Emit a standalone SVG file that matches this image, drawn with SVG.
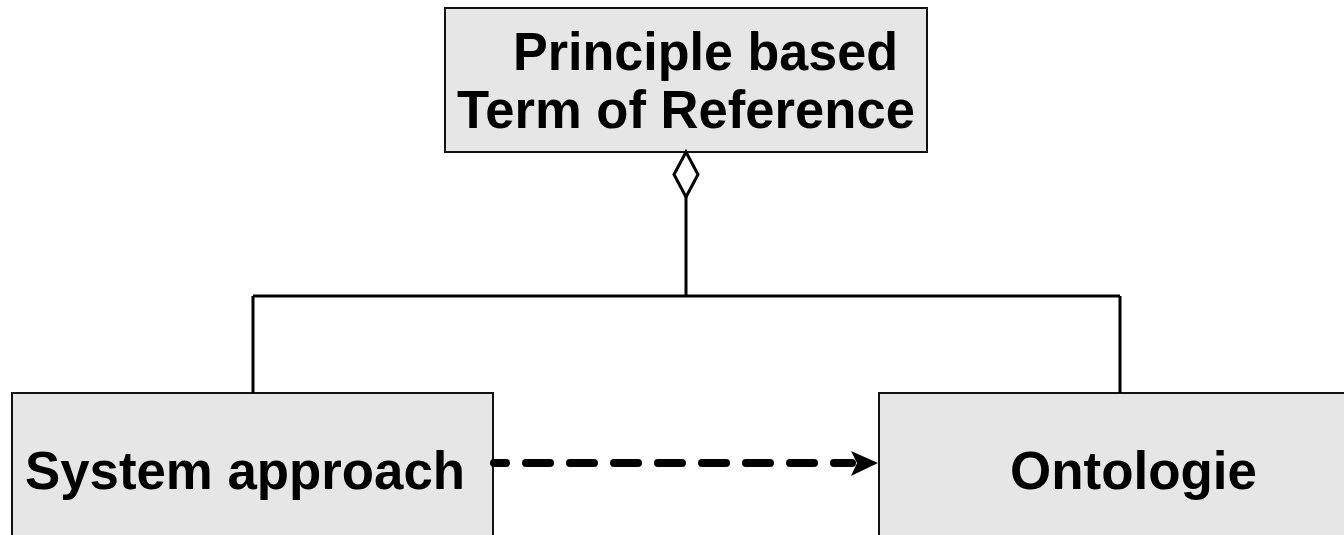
<svg xmlns="http://www.w3.org/2000/svg" width="1344" height="535" viewBox="0 0 1344 535">
  <style>
    .box { fill: #e6e6e6; stroke: #111; stroke-width: 2; }
    .lbl { font-family: "Liberation Sans", Arial, sans-serif; font-weight: bold; font-size: 53px; fill: #000; }
    .line { fill: none; stroke: #000; stroke-width: 3; }
  </style>
  <rect width="1344" height="535" fill="#fff"/>
  <g id="node-principle">
    <rect class="box" x="445" y="8" width="482" height="144"/>
    <text class="lbl" x="513" y="70" textLength="385" lengthAdjust="spacingAndGlyphs">Principle based</text>
    <text class="lbl" x="457" y="128" textLength="458" lengthAdjust="spacingAndGlyphs">Term of Reference</text>
  </g>
  <g id="node-system">
    <rect class="box" x="12" y="393" width="481" height="160"/>
    <text class="lbl" x="25" y="489" textLength="440" lengthAdjust="spacingAndGlyphs">System approach</text>
  </g>
  <g id="node-ontologie">
    <rect class="box" x="879" y="393" width="480" height="160"/>
    <text class="lbl" x="1010" y="489" textLength="247" lengthAdjust="spacingAndGlyphs">Ontologie</text>
  </g>
  <g id="connectors">
    <path class="line" d="M686,152 L698,174.5 L686,197 L674,174.5 Z" fill="#fff"/>
    <path class="line" d="M686,197 L686,296 M253,296 L1120,296 M253,296 L253,393 M1120,296 L1120,393"/>
    <line x1="494" y1="463" x2="852" y2="463" stroke="#000" stroke-width="8" stroke-linecap="round" stroke-dasharray="24 20" stroke-dashoffset="12"/>
    <path d="M851,451 L878,463 L851,476 L857,463 Z" fill="#000"/>
  </g>
</svg>
